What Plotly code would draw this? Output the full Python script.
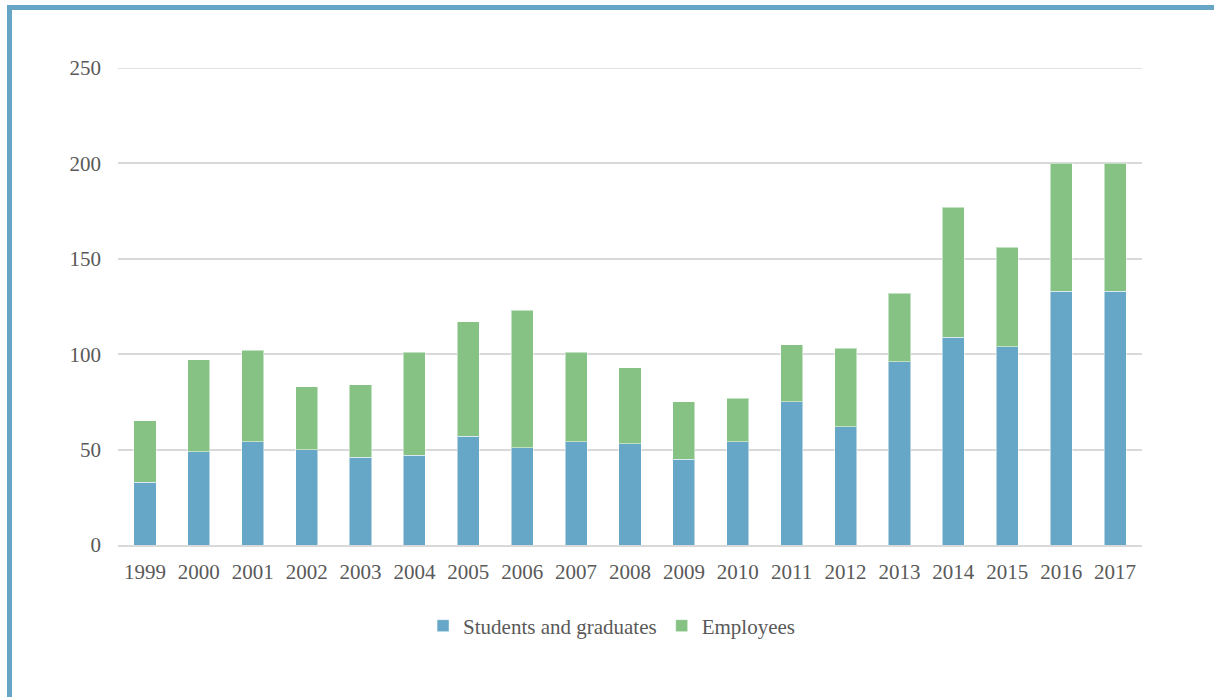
import plotly.graph_objects as go

# Annual counts of start-ups, split by founder background
years = ["1999", "2000", "2001", "2002", "2003", "2004", "2005", "2006", "2007", "2008",
         "2009", "2010", "2011", "2012", "2013", "2014", "2015", "2016", "2017"]
students = [33, 49, 54, 50, 46, 47, 57, 51, 54, 53, 45, 54, 75, 62, 96, 109, 104, 133, 133]
employees = [32, 48, 48, 33, 38, 54, 60, 72, 47, 40, 30, 23, 30, 41, 36, 68, 52, 67, 67]
y_ticks = [0, 50, 100, 150, 200, 250]

BLUE = "#66A7C7"
GREEN = "#85C284"
FRAME = "#66A5C6"
TEXT = "#595959"
GRID = "#D9D9D9"
FONT = "Liberation Serif"
FS = 21

fig = go.Figure()
fig.add_trace(go.Bar(x=years, y=students, name="Students and graduates",
                     marker=dict(color=BLUE, line=dict(color="rgba(255,255,255,0.5)", width=1))))
fig.add_trace(go.Bar(x=years, y=employees, name="Employees",
                     marker=dict(color=GREEN, line=dict(color="rgba(255,255,255,0.5)", width=1))))

W, H = 1214, 697
L, R, T, B = 118, 72, 68, 152
pw, ph = W - L - R, H - T - B


def px_x(px):
    return (px - L) / pw


def px_y(py):
    return (H - B - py) / ph


fig.update_layout(
    width=W, height=H,
    barmode="stack",
    bargap=0.59,
    margin=dict(l=L, r=R, t=T, b=B),
    paper_bgcolor="white",
    plot_bgcolor="white",
    font=dict(family=FONT, size=FS, color=TEXT),
    showlegend=True,
    legend=dict(orientation="h", x=0.482, xanchor="center", y=px_y(626), yanchor="middle",
                font=dict(family=FONT, size=FS, color=TEXT), traceorder="normal",
                itemwidth=30, bgcolor="rgba(0,0,0,0)"),
    xaxis=dict(showgrid=False, showline=True, linecolor=GRID, linewidth=1.5,
               ticks="", tickfont=dict(family=FONT, size=FS, color=TEXT),
               ticklabelstandoff=7, fixedrange=True),
    yaxis=dict(range=[0, 250], tickvals=y_ticks, showgrid=True, gridcolor=GRID,
               gridwidth=1.5, zeroline=False, showline=False, ticks="",
               tickfont=dict(family=FONT, size=FS, color=TEXT),
               ticklabelstandoff=16, fixedrange=True),
    shapes=[
        # top gridline sits on the range edge, so draw it explicitly
        dict(type="line", xref="paper", yref="y", x0=0, x1=1, y0=250, y1=250,
             line=dict(color=GRID, width=1.5), layer="below"),
        dict(type="rect", xref="paper", yref="paper",
             x0=px_x(9.5), x1=px_x(W + 40), y0=px_y(H + 40), y1=px_y(7.5),
             line=dict(color=FRAME, width=5), fillcolor="rgba(0,0,0,0)", layer="below"),
    ],
)

fig.write_html("out.html")
